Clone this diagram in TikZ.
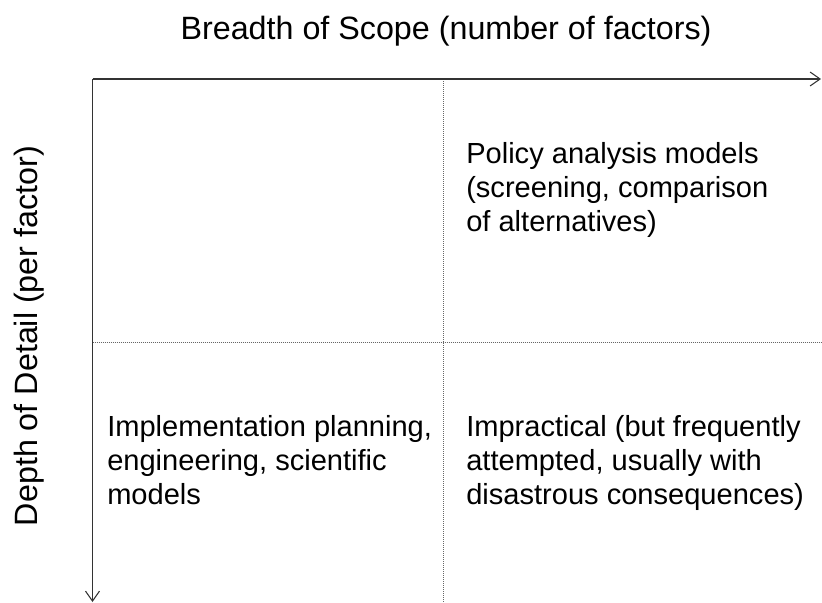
\documentclass[tikz,border=0pt]{standalone}
\usepackage{fontspec}
\setmainfont{Liberation Sans}
\usetikzlibrary{arrows.meta}
\begin{document}
\begin{tikzpicture}[x=0.75pt,y=-0.75pt,
  axis/.style={line width=0.8pt,black!80,-{Straight Barb[length=7.5pt,width=10.5pt,line width=0.8pt]}},
  divider/.style={line width=0.75pt,black!60,dash pattern=on 0.75pt off 0.75pt},
  title/.style={font=\fontsize{24.2}{29}\selectfont,inner sep=0pt,anchor=base},
  body/.style={font=\fontsize{21.8}{25.5}\selectfont,inner sep=0pt,anchor=base west,align=left}]
\useasboundingbox (0,0) rectangle (822,603);
\coordinate (o) at (92.5,79);
\coordinate (xe) at (821,79);
\coordinate (ye) at (92.5,602);
\coordinate (vt) at (443.5,79);
\coordinate (vb) at (443.5,603);
\coordinate (hl) at (92.5,342.5);
\coordinate (hr) at (821,342.5);
\draw[divider] (vt) -- (vb);
\draw[divider] (hl) -- (hr);
\draw[axis] (o) -- (xe);
\draw[axis] (o) -- (ye);
\node[title] (xt) at (446,40) {Breadth of Scope (number of factors)};
\node[title,rotate=90] (yt) at (37,336) {Depth of Detail (per factor)};
\node[body] (pa) at (466,231) {Policy analysis models\\(screening, comparison\\of alternatives)};
\node[body] (ip) at (107,504) {Implementation planning,\\engineering, scientific\\models};
\node[body] (im) at (466,504) {Impractical (but frequently\\attempted, usually with\\disastrous consequences)};
\end{tikzpicture}
\end{document}
